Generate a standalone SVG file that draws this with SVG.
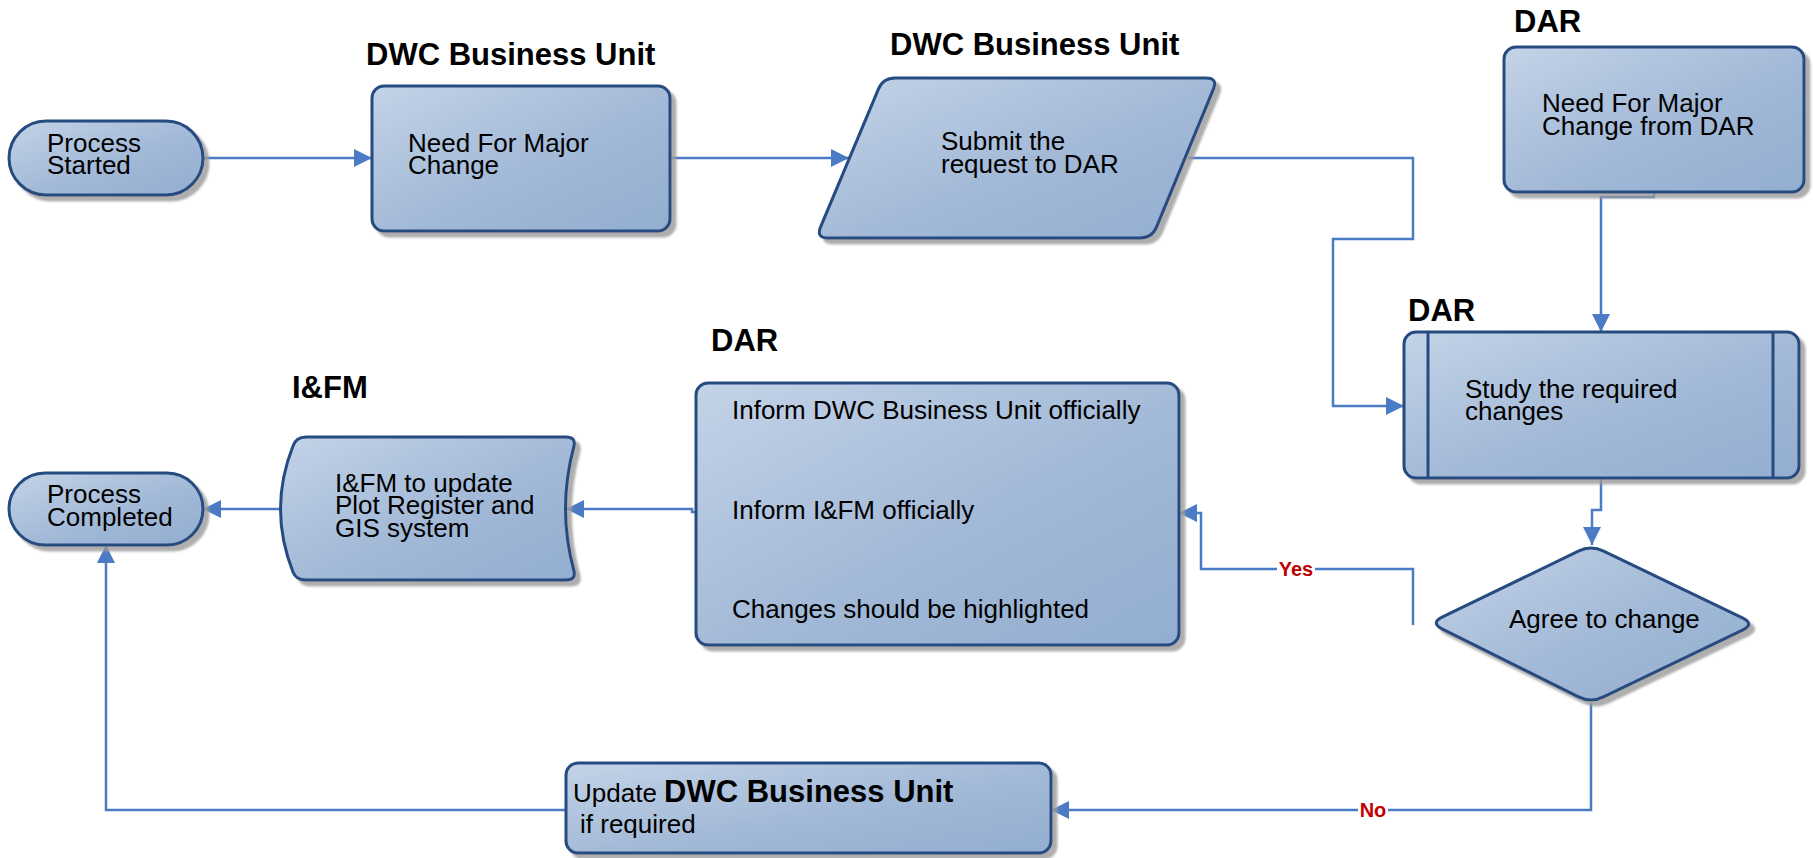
<svg xmlns="http://www.w3.org/2000/svg" width="1813" height="858" viewBox="0 0 1813 858">
<style>
.n{fill:url(#g);stroke:#264b80;stroke-width:3;filter:url(#sh)}
.t{font-family:"Liberation Sans",Arial,sans-serif;font-size:26px;fill:#000}
.h{font-family:"Liberation Sans",Arial,sans-serif;font-size:31px;font-weight:bold;fill:#000}
.c{fill:none;stroke:#4a7bc4;stroke-width:2.5}
.a{marker-end:url(#ar)}
.l{font-family:"Liberation Sans",Arial,sans-serif;font-size:20px;font-weight:bold;fill:#c00000;text-anchor:middle}
</style>
<defs>
<linearGradient id="g" x1="0" y1="0" x2="1" y2="1">
<stop offset="0" stop-color="#c4d3e7"/>
<stop offset="0.55" stop-color="#a2b9d7"/>
<stop offset="1" stop-color="#93aed0"/>
</linearGradient>
<filter id="sh" x="-5%" y="-5%" width="115%" height="120%">
<feDropShadow dx="5" dy="5" stdDeviation="1" flood-color="#9a9a9a" flood-opacity="0.8"/>
</filter>
<marker id="ar" viewBox="0 0 18 18" refX="18" refY="9" markerWidth="18" markerHeight="18" markerUnits="userSpaceOnUse" orient="auto">
<path d="M0,0 L18,9 L0,18 z" fill="#4a7bc4"/>
</marker>
</defs>
<rect width="1813" height="858" fill="#fff"/>

<g id="connectors">
<path class="c a" d="M203,158 L372,158"/>
<path class="c a" d="M670,158 L849,158"/>
<path class="c a" d="M1188,158 L1413,158 L1413,239 L1333,239 L1333,406 L1404,406"/>
<path class="c a" d="M1654,192 L1654,197 L1601,197 L1601,332"/>
<path class="c a" d="M1601,478 L1601,510 L1592,510 L1592,545"/>
<path class="c a" d="M1413,625 L1413,569 L1201,569 L1201,513 L1179,513"/>
<path class="c a" d="M1591,703 L1591,810 L1051,810"/>
<path class="c a" d="M696,512 L692,512 L692,509 L566,509"/>
<path class="c a" d="M280,509 L203,509"/>
<path class="c a" d="M566,810 L106,810 L106,545"/>
<rect x="1277" y="558" width="38" height="20" fill="#fff"/>
<text class="l" x="1296" y="576">Yes</text>
<rect x="1358" y="799" width="30" height="20" fill="#fff"/>
<text class="l" x="1373" y="817">No</text>
</g>

<g id="start">
<rect class="n" x="9" y="121" width="194" height="74" rx="37"/>
<text class="t" x="47" y="152">Process<tspan x="47" dy="22">Started</tspan></text>
</g>

<g id="need">
<text class="h" x="366" y="65">DWC Business Unit</text>
<rect class="n" x="372" y="86" width="298" height="145" rx="12"/>
<text class="t" x="408" y="152">Need For Major<tspan x="408" dy="22">Change</tspan></text>
</g>

<g id="submit">
<text class="h" x="890" y="55">DWC Business Unit</text>
<path class="n" d="M895,78 L1206,78 Q1218,78 1213.4,89.1 L1156.6,226.9 Q1152,238 1140,238 L828,238 Q816,238 820.6,226.9 L878.4,89.1 Q883,78 895,78 Z"/>
<text class="t" x="941" y="150">Submit the<tspan x="941" dy="23">request to DAR</tspan></text>
</g>

<g id="dar-need">
<text class="h" x="1514" y="32">DAR</text>
<rect class="n" x="1504" y="47" width="300" height="145" rx="12"/>
<text class="t" x="1542" y="112">Need For Major<tspan x="1542" dy="23">Change from DAR</tspan></text>
</g>

<g id="study">
<text class="h" x="1408" y="321">DAR</text>
<rect class="n" x="1404" y="332" width="395" height="146" rx="12"/>
<line x1="1428" y1="333" x2="1428" y2="477" stroke="#264b80" stroke-width="3"/>
<line x1="1773" y1="333" x2="1773" y2="477" stroke="#264b80" stroke-width="3"/>
<text class="t" x="1465" y="398">Study the required<tspan x="1465" dy="22">changes</tspan></text>
</g>

<g id="agree">
<path class="n" d="M1603.6,551.1 L1742.4,617.9 Q1755,624 1742.5,630.2 L1603.5,696.8 Q1591,703 1578.5,696.8 L1442.5,629.2 Q1430,623 1442.6,616.9 L1578.4,551.1 Q1591,545 1603.6,551.1 Z"/>
<text class="t" x="1509" y="628">Agree to change</text>
</g>

<g id="inform">
<text class="h" x="711" y="351">DAR</text>
<rect class="n" x="696" y="383" width="483" height="262" rx="12"/>
<text class="t" x="732" y="419">Inform DWC Business Unit officially</text>
<text class="t" x="732" y="519">Inform I&amp;FM officially</text>
<text class="t" x="732" y="618">Changes should be highlighted</text>
</g>

<g id="ifm">
<text class="h" x="292" y="398">I&amp;FM</text>
<path class="n" d="M306,437 L566,437 Q576,437 574,446 Q557,509 574,571 Q576,580 566,580 L306,580 Q296,580 293,572 Q268,509 293,446 Q296,437 306,437 Z"/>
<text class="t" x="335" y="492">I&amp;FM to update<tspan x="335" dy="22">Plot Register and</tspan><tspan x="335" dy="23">GIS system</tspan></text>
</g>

<g id="completed">
<rect class="n" x="9" y="473" width="194" height="72" rx="36"/>
<text class="t" x="47" y="503">Process<tspan x="47" dy="23">Completed</tspan></text>
</g>

<g id="update">
<rect class="n" x="566" y="763" width="485" height="90" rx="12"/>
<text class="t" x="573" y="802">Update <tspan style="font-weight:bold;font-size:31px">DWC Business Unit</tspan><tspan x="580" dy="31">if required</tspan></text>
</g>
</svg>
